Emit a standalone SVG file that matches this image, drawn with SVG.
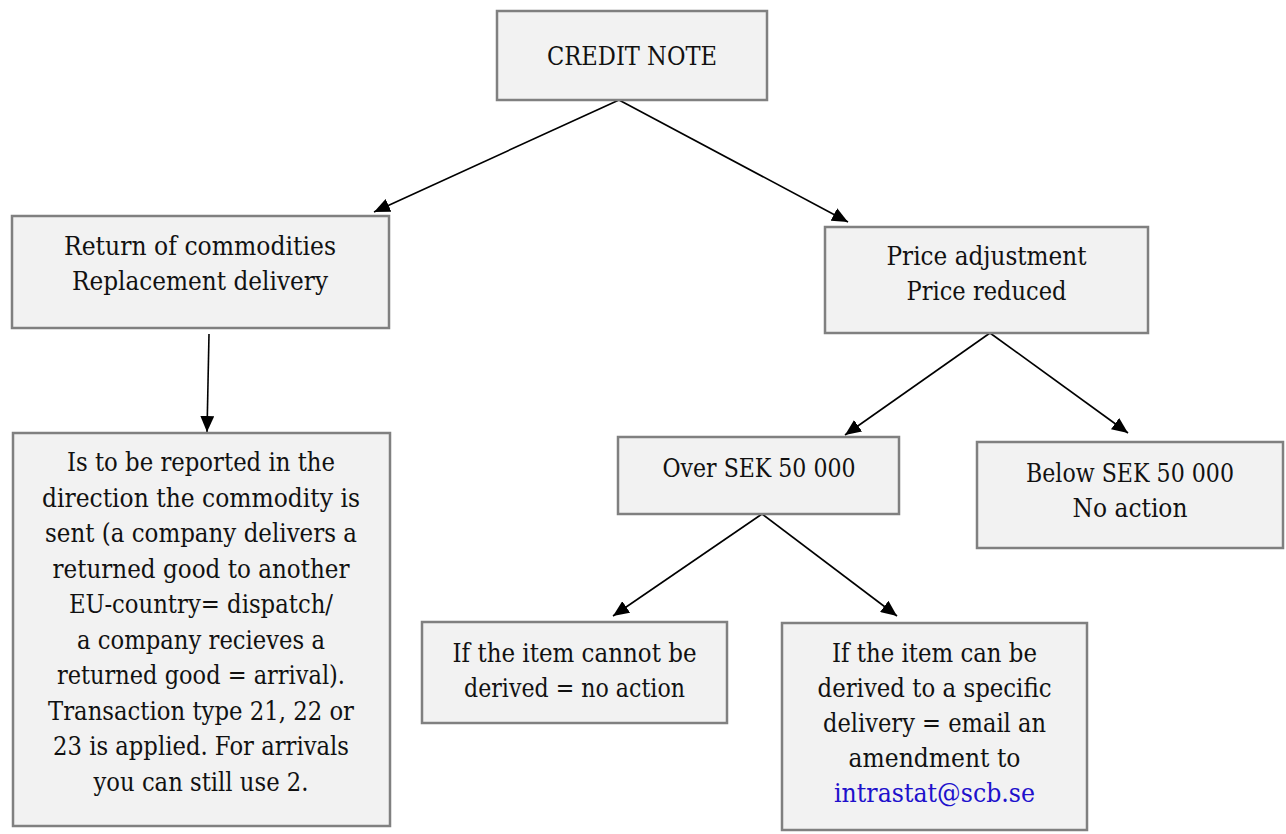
<svg xmlns="http://www.w3.org/2000/svg" width="1286" height="834" viewBox="0 0 1286 834">
<style>
.box{fill:#f2f2f2;stroke:#808080;stroke-width:2.5}
.t{font-family:"DejaVu Serif","Liberation Serif",serif;font-size:26px;fill:#111;text-anchor:middle}
.link{fill:#2010cc}
.c{stroke:#000;stroke-width:1.6;fill:none;marker-end:url(#ah)}
</style>
<defs>
<marker id="ah" markerUnits="userSpaceOnUse" markerWidth="17" markerHeight="14" refX="16" refY="7" orient="auto">
<path d="M0,0 L16,7 L0,14 z" fill="#000"/>
</marker>
</defs>
<rect width="1286" height="834" fill="#fff"/>
<g id="connectors">
<line class="c" x1="619" y1="100" x2="374" y2="212"/>
<line class="c" x1="619" y1="100" x2="848" y2="222"/>
<line class="c" x1="209" y1="334" x2="207" y2="432"/>
<line class="c" x1="990" y1="333" x2="845" y2="435"/>
<line class="c" x1="990" y1="333" x2="1128" y2="433"/>
<line class="c" x1="762" y1="514" x2="613" y2="616"/>
<line class="c" x1="762" y1="514" x2="897" y2="616"/>
</g>
<g id="credit-note">
<rect class="box" x="497" y="11" width="270" height="89"/>
<text class="t" x="632" y="65" textLength="170" lengthAdjust="spacingAndGlyphs">CREDIT NOTE</text>
</g>
<g id="return">
<rect class="box" x="12" y="216" width="377" height="112"/>
<text class="t" x="200" y="255" textLength="272" lengthAdjust="spacingAndGlyphs">Return of commodities</text>
<text class="t" x="200" y="290" textLength="256" lengthAdjust="spacingAndGlyphs">Replacement delivery</text>
</g>
<g id="report">
<rect class="box" x="13" y="433" width="377" height="393"/>
<text class="t" x="201" y="471" textLength="268" lengthAdjust="spacingAndGlyphs">Is to be reported in the</text>
<text class="t" x="201" y="506.5" textLength="318" lengthAdjust="spacingAndGlyphs">direction the commodity is</text>
<text class="t" x="201" y="542" textLength="312" lengthAdjust="spacingAndGlyphs">sent (a company delivers a</text>
<text class="t" x="201" y="577.5" textLength="297" lengthAdjust="spacingAndGlyphs">returned good to another</text>
<text class="t" x="201" y="613" textLength="264" lengthAdjust="spacingAndGlyphs">EU-country= dispatch/</text>
<text class="t" x="201" y="648.5" textLength="248" lengthAdjust="spacingAndGlyphs">a company recieves a</text>
<text class="t" x="201" y="684" textLength="288" lengthAdjust="spacingAndGlyphs">returned good = arrival).</text>
<text class="t" x="201" y="719.5" textLength="306" lengthAdjust="spacingAndGlyphs">Transaction type 21, 22 or</text>
<text class="t" x="201" y="755" textLength="296" lengthAdjust="spacingAndGlyphs">23 is applied. For arrivals</text>
<text class="t" x="201" y="790.5" textLength="215" lengthAdjust="spacingAndGlyphs">you can still use 2.</text>
</g>
<g id="price">
<rect class="box" x="825" y="227" width="323" height="106"/>
<text class="t" x="986.5" y="265" textLength="200" lengthAdjust="spacingAndGlyphs">Price adjustment</text>
<text class="t" x="986.5" y="300" textLength="160" lengthAdjust="spacingAndGlyphs">Price reduced</text>
</g>
<g id="over">
<rect class="box" x="618" y="437" width="281" height="77"/>
<text class="t" x="759" y="477" textLength="193" lengthAdjust="spacingAndGlyphs">Over SEK 50 000</text>
</g>
<g id="below">
<rect class="box" x="977" y="442" width="306" height="106"/>
<text class="t" x="1130" y="482" textLength="208" lengthAdjust="spacingAndGlyphs">Below SEK 50 000</text>
<text class="t" x="1130" y="517" textLength="115" lengthAdjust="spacingAndGlyphs">No action</text>
</g>
<g id="cannot">
<rect class="box" x="422" y="622" width="305" height="101"/>
<text class="t" x="574.5" y="662" textLength="244" lengthAdjust="spacingAndGlyphs">If the item cannot be</text>
<text class="t" x="574.5" y="697" textLength="221" lengthAdjust="spacingAndGlyphs">derived = no action</text>
</g>
<g id="can">
<rect class="box" x="782" y="623" width="305" height="207"/>
<text class="t" x="934.5" y="662" textLength="205" lengthAdjust="spacingAndGlyphs">If the item can be</text>
<text class="t" x="934.5" y="697" textLength="234" lengthAdjust="spacingAndGlyphs">derived to a specific</text>
<text class="t" x="934.5" y="732" textLength="223" lengthAdjust="spacingAndGlyphs">delivery = email an</text>
<text class="t" x="934.5" y="767" textLength="172" lengthAdjust="spacingAndGlyphs">amendment to</text>
<text class="t link" x="934.5" y="802" textLength="201" lengthAdjust="spacingAndGlyphs">intrastat@scb.se</text>
</g>
</svg>
